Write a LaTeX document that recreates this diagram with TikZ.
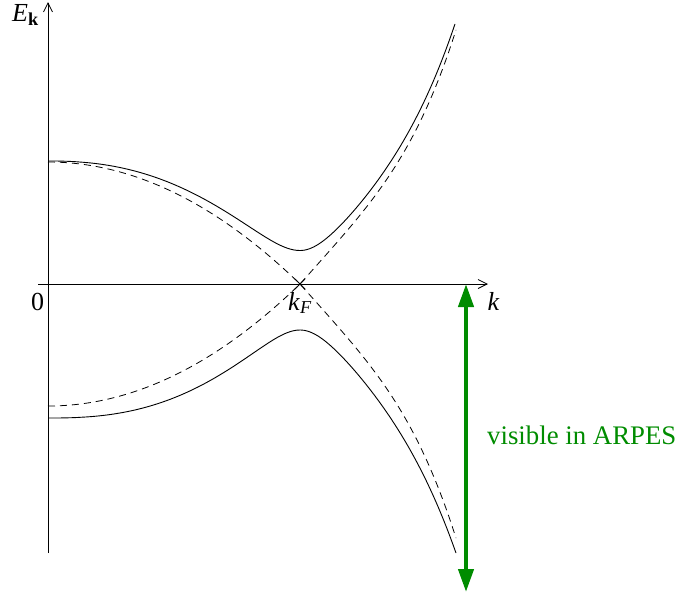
\documentclass[tikz,border=0pt]{standalone}
\usepackage{fontspec}
\setmainfont{Liberation Serif}
\usetikzlibrary{arrows.meta}
\definecolor{arpesgreen}{RGB}{0,140,0}
\tikzset{
  declare function={
    eL(\x)=-122*(1-((\x-48)/252)^2);
    eR(\x)=1.119*(\x-300)+13.43*((\x-300)/100)^4;
    fL(\x)=-123.2*(1-pow(max((\x-48)/252,0.0001),2.3));
    fR(\x)=1.264*(\x-300)+11.72*((\x-300)/100)^4;
    gL(\x)=121.6*(1-pow(max((\x-48)/252,0.0001),2.5));
    gR(\x)=1.264*(\x-300)+10.6*((\x-300)/100)^4;
    su(\t)=-6.5+10*sqrt((\t/10)^2+16);
    sl(\t)=6+10*sqrt((\t/10)^2+16);
  },
  axisline/.style={line width=0.8pt, -{Straight Barb[length=9pt,width=9pt,line width=0.8pt]}},
  bareline/.style={line width=0.8pt, black},
  bandline/.style={line width=0.9pt, black},
  bareband/.style={line width=0.8pt, black, dash pattern=on 7pt off 5pt},
  greenarrow/.style={line width=4.2pt, arpesgreen, {Triangle[length=23pt,width=15pt]}-{Triangle[length=23pt,width=15pt]}},
  lbl/.style={inner sep=0pt, font=\fontsize{26}{30}\selectfont}
}
\begin{document}
\begin{tikzpicture}[x=1pt,y=-1pt]
\useasboundingbox (0,0) rectangle (679,595);
% axes
\coordinate (ybot) at (48,553);
\coordinate (ytop) at (48,2);
\coordinate (xleft) at (38,284);
\coordinate (xright) at (488,284);
\coordinate (kF) at (300,284);
\draw[axisline] (ybot) -- (ytop);
\draw[axisline] (xleft) -- (xright);
% small cross at kF
\draw[bareline] ([shift={(-5,-5)}]kF) -- ([shift={(5,5)}]kF);
\draw[bareline] ([shift={(-5,5)}]kF) -- ([shift={(5,-5)}]kF);
% dashed bare bands
\draw[bareband] plot[domain=48:300, samples=60] (\x,{284-eL(\x)}) -- plot[domain=300:456, samples=60] (\x,{284-eR(\x)});
\draw[bareband] plot[domain=48:300, samples=60] (\x,{284+eL(\x)}) -- plot[domain=300:456, samples=60] (\x,{284+eR(\x)});
% solid gapped bands
\draw[bandline] plot[domain=48:300, samples=80] (\x,{284-su(fL(\x))}) -- plot[domain=300:455, samples=80] (\x,{284-su(fR(\x))});
\draw[bandline] plot[domain=48:300, samples=80] (\x,{284+sl(gL(\x))}) -- plot[domain=300:456, samples=80] (\x,{284+sl(gR(\x))});
% labels
\node[lbl, anchor=base west] (Elabel) at (12,21) {\textit{E}\textsubscript{\bfseries k}};
\node[lbl, anchor=base] (zero) at (37.5,310) {0};
\node[lbl, anchor=base] (klabel) at (493.5,310) {\textit{k}};
\node[lbl, anchor=base west] (kFlabel) at (288,310) {\textit{k}\textsubscript{\itshape F}};
% ARPES arrow
\coordinate (atop) at (466,284);
\coordinate (abot) at (466,592);
\draw[greenarrow] (abot) -- (atop);
\node[lbl, anchor=base west, text=arpesgreen, font=\fontsize{26.8}{32}\selectfont] (arpes) at (487,444) {visible in ARPES};
\end{tikzpicture}
\end{document}
